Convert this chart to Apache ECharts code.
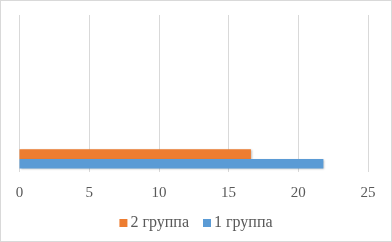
<!DOCTYPE html>
<html><head><meta charset="utf-8">
<script src="https://cdn.jsdelivr.net/npm/echarts@6/dist/echarts.min.js"></script>
<style>html,body{margin:0;padding:0;background:#fff}
#c{width:392px;height:242px;box-sizing:border-box;border:1px solid #d9d9d9}</style>
</head><body><div id="c"></div>
<script>
var categories = ['A', 'B', 'C', 'D', 'E', 'F'];
var group1 = [21.8, null, null, null, null, null];
var group2 = [16.6, null, null, null, null, null];
var seriesNames = ['1 группа', '2 группа'];
var legendOrder = ['2 группа', '1 группа'];
var xTicks = {min: 0, max: 25, interval: 5};

var chart = echarts.init(document.getElementById('c'), null, {renderer: 'canvas'});
var font = '"Liberation Serif", "Times New Roman", serif';
chart.setOption({
  animation: false,
  grid: {left: 18.5, right: 23, top: 14, bottom: 69, containLabel: false},
  legend: {
    data: legendOrder, top: 209, left: 'center', icon: 'rect', itemWidth: 8, itemHeight: 8, itemGap: 14,
    textStyle: {fontFamily: font, fontSize: 16, color: '#595959', padding: [0, 0, 0, -2]}
  },
  xAxis: {
    type: 'value', min: xTicks.min, max: xTicks.max, interval: xTicks.interval,
    axisLine: {show: false}, axisTick: {show: false},
    axisLabel: {fontFamily: font, fontSize: 15, color: '#595959', margin: 14},
    splitLine: {lineStyle: {color: '#d9d9d9', width: 1}}
  },
  yAxis: {
    type: 'category', data: categories,
    axisLine: {show: false}, axisTick: {show: false}, axisLabel: {show: false}
  },
  series: [
    {name: seriesNames[1], type: 'bar', data: group2, barGap: '0%', barCategoryGap: '27%',
     itemStyle: {color: '#ED7D31', shadowColor: 'rgba(0,0,0,0.25)', shadowBlur: 2, shadowOffsetX: 1, shadowOffsetY: 1}},
    {name: seriesNames[0], type: 'bar', data: group1, barGap: '0%', barCategoryGap: '27%',
     itemStyle: {color: '#5B9BD5', shadowColor: 'rgba(0,0,0,0.25)', shadowBlur: 2, shadowOffsetX: 1, shadowOffsetY: 1}}
  ]
});
</script></body></html>
